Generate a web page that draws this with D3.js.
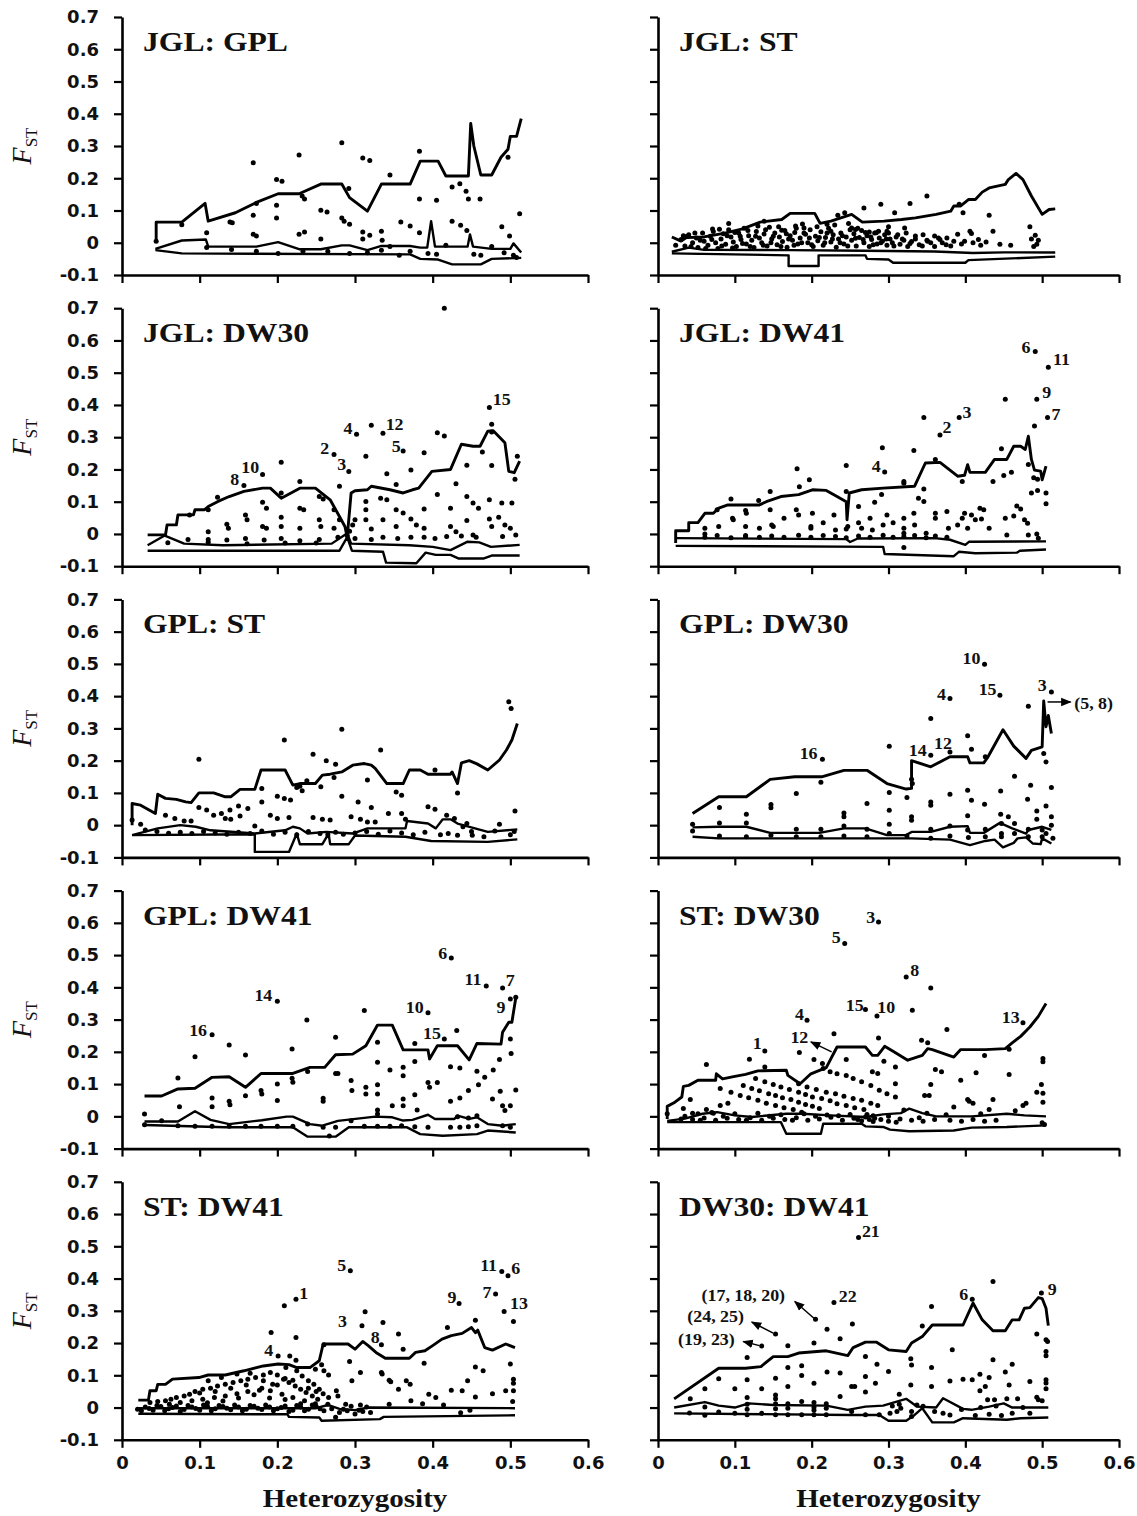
<!DOCTYPE html>
<html>
<head>
<meta charset="utf-8">
<script src="https://cdn.jsdelivr.net/npm/d3@7"></script>
<style>
  body { margin: 0; background: #fff; }
</style>
</head>
<body>
<svg id="chart"></svg>
<script>
// ---- data (heterozygosity, Fst) ----
const xTicks = [0, 0.1, 0.2, 0.3, 0.4, 0.5, 0.6];
const yTicks = [-0.1, 0, 0.1, 0.2, 0.3, 0.4, 0.5, 0.6, 0.7];
const titles = ["JGL: GPL", "JGL: ST", "JGL: DW30", "JGL: DW41", "GPL: ST", "GPL: DW30", "GPL: DW41", "ST: DW30", "ST: DW41", "DW30: DW41"];

// JGL: GPL
const jglGplUpper = [[0.044,0.003],[0.044,0.064],[0.077,0.064],[0.107,0.122],[0.111,0.067],[0.146,0.093],[0.173,0.125],[0.201,0.152],[0.228,0.152],[0.256,0.182],[0.283,0.182],[0.293,0.14],[0.316,0.098],[0.334,0.182],[0.371,0.182],[0.384,0.253],[0.407,0.253],[0.417,0.207],[0.446,0.207],[0.449,0.37],[0.453,0.3],[0.462,0.21],[0.476,0.21],[0.488,0.265],[0.497,0.29],[0.5,0.33],[0.508,0.33],[0.514,0.385]];
const jglGplMid = [[0.043,-0.019],[0.077,0.007],[0.108,0.01],[0.111,-0.012],[0.173,-0.012],[0.201,0.002],[0.228,-0.02],[0.256,-0.02],[0.283,-0.008],[0.293,-0.008],[0.316,-0.023],[0.334,-0.01],[0.371,-0.01],[0.384,-0.015],[0.393,-0.015],[0.398,0.067],[0.403,-0.012],[0.445,-0.012],[0.448,0.026],[0.452,-0.012],[0.476,-0.019],[0.5,-0.019],[0.504,-0.002],[0.514,-0.03]];
const jglGplLow = [[0.043,-0.023],[0.077,-0.033],[0.371,-0.036],[0.384,-0.05],[0.407,-0.052],[0.425,-0.067],[0.462,-0.067],[0.476,-0.05],[0.514,-0.047]];
const jglGplDots = [[0.044,0.005],[0.077,0.056],[0.109,0.031],[0.139,0.064],[0.142,0.062],[0.169,0.248],[0.169,0.085],[0.173,0.122],[0.169,0.026],[0.173,0.021],[0.199,0.196],[0.206,0.191],[0.199,0.116],[0.199,0.077],[0.228,0.272],[0.232,0.145],[0.235,0.136],[0.228,0.026],[0.235,0.033],[0.256,0.101],[0.264,0.095],[0.256,0.012],[0.283,0.31],[0.283,0.077],[0.286,0.067],[0.292,0.168],[0.293,0.057],[0.31,0.263],[0.319,0.255],[0.31,0.033],[0.319,0.023],[0.31,0.012],[0.334,0.036],[0.335,0.008],[0.345,0.21],[0.359,0.064],[0.371,0.052],[0.383,0.284],[0.383,0.136],[0.383,0.031],[0.405,0.132],[0.425,0.173],[0.435,0.183],[0.443,0.16],[0.446,0.136],[0.461,0.136],[0.425,0.067],[0.436,0.054],[0.444,0.038],[0.489,0.05],[0.497,0.265],[0.499,0.021],[0.512,0.09],[0.109,-0.015],[0.141,-0.021],[0.173,-0.026],[0.201,-0.033],[0.233,-0.026],[0.265,-0.026],[0.293,-0.033],[0.316,-0.031],[0.334,-0.023],[0.345,-0.012],[0.357,-0.039],[0.371,-0.026],[0.394,-0.033],[0.405,-0.036],[0.417,-0.008],[0.453,-0.036],[0.462,-0.039],[0.476,-0.012],[0.492,-0.031],[0.504,-0.039],[0.508,-0.046]];
const jglGplLabels = [];

// JGL: ST
const jglStUpper = [[0.018,0.018],[0.03,0.005],[0.037,0.016],[0.06,0.018],[0.087,0.03],[0.11,0.043],[0.133,0.064],[0.161,0.072],[0.172,0.091],[0.204,0.091],[0.211,0.06],[0.225,0.067],[0.252,0.088],[0.266,0.064],[0.294,0.067],[0.317,0.072],[0.335,0.077],[0.362,0.088],[0.381,0.098],[0.385,0.114],[0.394,0.114],[0.404,0.134],[0.413,0.134],[0.422,0.157],[0.431,0.17],[0.452,0.181],[0.456,0.196],[0.466,0.215],[0.475,0.196],[0.486,0.145],[0.5,0.088],[0.509,0.103],[0.517,0.105]];
const jglStMid = [[0.018,-0.028],[0.04,-0.015],[0.06,-0.022],[0.17,-0.023],[0.27,-0.025],[0.36,-0.027],[0.41,-0.032],[0.45,-0.03],[0.517,-0.03]];
const jglStLow = [[0.018,-0.033],[0.17,-0.039],[0.17,-0.072],[0.209,-0.072],[0.209,-0.039],[0.27,-0.039],[0.272,-0.05],[0.3,-0.052],[0.306,-0.062],[0.4,-0.062],[0.404,-0.054],[0.517,-0.043]];
const jglStDots = [[0.268,0.108],[0.29,0.119],[0.308,0.093],[0.328,0.122],[0.35,0.145],[0.397,0.093],[0.392,0.119],[0.431,0.085],[0.484,0.05],[0.243,0.093],[0.234,0.085],[0.252,0.046],[0.257,0.041],[0.436,0.036],[0.406,0.036],[0.408,0.029],[0.36,0.021],[0.376,0.015],[0.367,0.01],[0.39,0.026],[0.399,0.005],[0.417,0.01],[0.427,0.002],[0.445,-0.005],[0.459,-0.008],[0.486,0.012],[0.491,0.023],[0.495,0.008],[0.489,-0.012],[0.493,-0.005],[0.321,0.046],[0.3,0.05],[0.298,0.036],[0.284,0.031],[0.275,0.033],[0.225,0.036],[0.22,0.057],[0.179,0.052],[0.19,0.046],[0.161,0.039],[0.138,0.067],[0.092,0.06],[0.071,0.043],[0.037,0.019],[0.023,-0.008],[0.335,0.021],[0.344,-0.01],[0.351,0.005],[0.381,-0.01],[0.03,0.01],[0.035,-0.01],[0.04,0.025],[0.045,0.0],[0.05,0.015],[0.052,-0.015],[0.058,0.03],[0.06,0.005],[0.065,-0.008],[0.068,0.02],[0.072,0.035],[0.075,0.0],[0.078,-0.018],[0.082,0.012],[0.085,0.028],[0.088,-0.005],[0.092,0.04],[0.095,0.018],[0.098,0.002],[0.102,-0.012],[0.105,0.03],[0.108,0.01],[0.112,0.045],[0.115,-0.004],[0.118,0.022],[0.122,0.008],[0.125,-0.015],[0.128,0.035],[0.132,0.015],[0.135,0.0],[0.138,0.027],[0.142,-0.01],[0.145,0.048],[0.148,0.012],[0.152,0.03],[0.155,-0.006],[0.158,0.018],[0.162,0.004],[0.165,0.038],[0.168,-0.014],[0.172,0.022],[0.175,0.008],[0.178,0.032],[0.182,-0.004],[0.185,0.015],[0.188,0.058],[0.192,0.026],[0.195,0.0],[0.198,0.04],[0.202,-0.012],[0.205,0.02],[0.208,0.006],[0.212,0.034],[0.215,-0.008],[0.218,0.016],[0.222,0.045],[0.225,0.002],[0.228,0.025],[0.232,-0.014],[0.235,0.012],[0.238,0.03],[0.242,-0.004],[0.245,0.018],[0.248,0.06],[0.252,0.008],[0.255,0.028],[0.258,-0.01],[0.262,0.016],[0.265,0.038],[0.268,0.0],[0.272,0.022],[0.275,-0.012],[0.278,0.01],[0.282,0.03],[0.285,-0.004],[0.288,0.015],[0.292,0.005],[0.295,0.025],[0.298,-0.008],[0.302,0.012],[0.305,0.0],[0.31,0.018],[0.315,-0.005],[0.32,0.008],[0.325,-0.012],[0.33,0.004],[0.34,-0.006],[0.35,0.008],[0.36,-0.012],[0.37,0.0],[0.033,0.022],[0.043,-0.012],[0.048,0.03],[0.055,0.008],[0.062,-0.018],[0.07,0.01],[0.08,0.042],[0.083,-0.01],[0.09,0.022],[0.097,-0.016],[0.1,0.032],[0.107,0.02],[0.11,-0.002],[0.117,0.038],[0.12,-0.012],[0.127,0.02],[0.13,0.052],[0.137,-0.008],[0.14,0.04],[0.147,0.0],[0.15,0.02],[0.157,0.05],[0.16,-0.012],[0.167,0.028],[0.17,0.012],[0.177,-0.008],[0.18,0.045],[0.187,0.0],[0.19,0.03],[0.197,0.015],[0.2,-0.006],[0.207,0.05],[0.21,0.016],[0.217,0.0],[0.22,0.03],[0.227,0.012],[0.23,0.055],[0.237,0.0],[0.24,0.022],[0.247,-0.01],[0.25,0.04],[0.257,0.014],[0.26,0.045],[0.267,0.01],[0.27,0.032],[0.277,0.018],[0.28,-0.006],[0.287,0.036],[0.29,0.0],[0.297,0.012],[0.3,0.03],[0.307,-0.01],[0.312,0.025],[0.318,0.012],[0.323,0.03],[0.328,-0.002],[0.335,0.012],[0.345,0.025],[0.355,0.0],[0.365,0.015],[0.375,-0.006],[0.385,0.005],[0.395,-0.004],[0.41,0.0],[0.42,-0.008]];
const jglStLabels = [];

// JGL: DW30
const jglDw30Upper = [[0.033,-0.003],[0.056,-0.003],[0.058,0.028],[0.07,0.028],[0.072,0.059],[0.092,0.059],[0.094,0.075],[0.106,0.075],[0.111,0.085],[0.123,0.1],[0.138,0.116],[0.157,0.132],[0.181,0.142],[0.191,0.142],[0.205,0.111],[0.229,0.142],[0.249,0.142],[0.268,0.106],[0.28,0.054],[0.287,0.023],[0.29,-0.01],[0.295,0.127],[0.3,0.134],[0.316,0.137],[0.321,0.148],[0.345,0.137],[0.362,0.127],[0.374,0.137],[0.382,0.142],[0.399,0.194],[0.423,0.2],[0.437,0.278],[0.452,0.272],[0.461,0.272],[0.471,0.319],[0.478,0.32],[0.493,0.283],[0.498,0.194],[0.505,0.19],[0.512,0.226]];
const jglDw30Mid = [[0.033,-0.035],[0.055,-0.005],[0.08,-0.03],[0.13,-0.035],[0.27,-0.03],[0.29,0.002],[0.295,-0.03],[0.37,-0.035],[0.4,-0.04],[0.423,-0.05],[0.445,-0.024],[0.46,-0.026],[0.475,-0.04],[0.512,-0.034]];
const jglDw30Low = [[0.033,-0.052],[0.28,-0.052],[0.29,-0.01],[0.296,-0.052],[0.336,-0.055],[0.34,-0.089],[0.379,-0.091],[0.391,-0.058],[0.404,-0.065],[0.423,-0.065],[0.433,-0.076],[0.466,-0.076],[0.476,-0.067],[0.512,-0.067]];
const jglDw30Dots = [[0.415,0.70],[0.473,0.392],[0.476,0.34],[0.476,0.316],[0.476,0.212],[0.464,0.254],[0.444,0.213],[0.406,0.314],[0.415,0.304],[0.389,0.252],[0.372,0.198],[0.362,0.257],[0.336,0.312],[0.321,0.337],[0.302,0.309],[0.314,0.241],[0.341,0.187],[0.353,0.153],[0.28,0.148],[0.273,0.246],[0.292,0.194],[0.205,0.222],[0.181,0.184],[0.157,0.15],[0.229,0.163],[0.205,0.127],[0.254,0.116],[0.259,0.108],[0.123,0.114],[0.111,0.075],[0.087,0.059],[0.181,0.098],[0.186,0.08],[0.229,0.08],[0.234,0.075],[0.159,0.059],[0.161,0.044],[0.135,0.03],[0.137,0.018],[0.111,0.007],[0.181,0.023],[0.186,0.018],[0.205,0.052],[0.205,0.023],[0.229,0.018],[0.254,0.044],[0.256,0.023],[0.273,0.075],[0.28,0.044],[0.273,0.018],[0.297,0.028],[0.3,0.044],[0.314,0.101],[0.314,0.075],[0.314,0.044],[0.321,0.015],[0.333,0.111],[0.341,0.106],[0.336,0.044],[0.353,0.075],[0.362,0.065],[0.353,0.023],[0.372,0.046],[0.379,0.028],[0.389,0.077],[0.389,0.018],[0.406,0.122],[0.423,0.08],[0.423,0.023],[0.43,0.007],[0.43,0.156],[0.444,0.116],[0.452,0.096],[0.459,0.08],[0.444,0.042],[0.452,-0.003],[0.473,0.106],[0.473,0.046],[0.476,0.023],[0.485,0.052],[0.489,0.096],[0.502,0.096],[0.493,0.028],[0.5,0.018],[0.509,0.241],[0.506,0.17],[0.507,-0.003],[0.059,-0.027],[0.085,-0.017],[0.111,-0.017],[0.135,-0.019],[0.159,-0.014],[0.183,-0.019],[0.205,-0.014],[0.229,-0.021],[0.254,-0.017],[0.278,-0.01],[0.3,-0.014],[0.321,-0.017],[0.336,-0.01],[0.355,-0.014],[0.372,-0.01],[0.389,-0.01],[0.403,-0.014],[0.418,-0.008],[0.437,-0.006],[0.456,-0.01],[0.49,-0.008],[0.111,-0.026],[0.161,-0.03],[0.21,-0.028],[0.25,-0.028],[0.29,-0.005],[0.293,0.008]];
const jglDw30Labels = [["15",0.489,0.418],["4",0.291,0.326],["12",0.351,0.34],["5",0.353,0.272],["2",0.261,0.264],["3",0.283,0.215],["10",0.165,0.205],["8",0.145,0.168]];

// JGL: DW41
const jglDw41Upper = [[0.023,-0.028],[0.023,0.01],[0.04,0.01],[0.04,0.035],[0.052,0.035],[0.061,0.064],[0.072,0.064],[0.079,0.08],[0.091,0.09],[0.132,0.09],[0.141,0.1],[0.16,0.116],[0.183,0.122],[0.201,0.137],[0.219,0.135],[0.233,0.116],[0.245,0.1],[0.246,0.044],[0.249,0.127],[0.265,0.137],[0.293,0.142],[0.334,0.148],[0.348,0.22],[0.367,0.222],[0.39,0.179],[0.399,0.182],[0.403,0.215],[0.406,0.191],[0.426,0.191],[0.438,0.231],[0.454,0.231],[0.463,0.272],[0.472,0.272],[0.478,0.262],[0.482,0.303],[0.486,0.231],[0.49,0.198],[0.498,0.195],[0.5,0.168],[0.505,0.21]];
const jglDw41Mid = [[0.023,-0.013],[0.245,-0.016],[0.25,-0.025],[0.26,-0.014],[0.36,-0.013],[0.38,-0.018],[0.4,-0.034],[0.405,-0.024],[0.505,-0.023]];
const jglDw41Low = [[0.023,-0.037],[0.293,-0.04],[0.295,-0.062],[0.385,-0.069],[0.392,-0.055],[0.413,-0.06],[0.467,-0.058],[0.471,-0.052],[0.505,-0.048]];
const jglDw41Dots = [[0.491,0.566],[0.508,0.517],[0.493,0.418],[0.452,0.418],[0.507,0.361],[0.392,0.361],[0.367,0.307],[0.346,0.361],[0.49,0.335],[0.292,0.267],[0.333,0.259],[0.295,0.192],[0.245,0.212],[0.181,0.202],[0.197,0.168],[0.361,0.231],[0.447,0.264],[0.396,0.163],[0.436,0.163],[0.45,0.181],[0.46,0.191],[0.482,0.215],[0.489,0.174],[0.494,0.17],[0.486,0.127],[0.494,0.135],[0.505,0.127],[0.505,0.094],[0.346,0.139],[0.339,0.111],[0.346,0.101],[0.32,0.163],[0.32,0.157],[0.291,0.122],[0.282,0.098],[0.245,0.132],[0.261,0.085],[0.184,0.146],[0.18,0.075],[0.183,0.059],[0.146,0.132],[0.095,0.108],[0.077,0.075],[0.079,0.023],[0.061,0.018],[0.061,0.0],[0.097,0.049],[0.098,0.044],[0.114,0.073],[0.115,0.064],[0.131,0.104],[0.132,0.018],[0.114,0.023],[0.114,-0.008],[0.146,0.075],[0.148,0.028],[0.15,0.023],[0.164,0.049],[0.199,0.023],[0.199,0.018],[0.201,0.064],[0.215,0.035],[0.229,0.059],[0.231,0.012],[0.245,0.015],[0.247,0.023],[0.261,0.035],[0.265,0.018],[0.276,0.049],[0.279,0.012],[0.293,0.028],[0.298,0.059],[0.306,0.035],[0.32,0.049],[0.32,0.018],[0.32,0.002],[0.333,0.064],[0.334,0.028],[0.349,0.002],[0.361,0.064],[0.361,0.049],[0.376,0.07],[0.378,0.018],[0.39,0.028],[0.396,0.049],[0.399,0.064],[0.403,0.018],[0.408,0.059],[0.413,0.044],[0.419,0.08],[0.424,0.075],[0.421,0.046],[0.431,0.018],[0.452,0.049],[0.454,-0.003],[0.463,0.056],[0.467,0.087],[0.472,0.077],[0.477,0.044],[0.481,0.033],[0.482,-0.003],[0.493,0.0],[0.495,-0.013],[0.32,-0.042],[0.061,-0.01],[0.077,-0.005],[0.095,-0.012],[0.114,-0.005],[0.132,-0.01],[0.148,-0.006],[0.164,-0.01],[0.183,-0.004],[0.199,-0.01],[0.215,-0.005],[0.231,-0.008],[0.245,-0.012],[0.261,-0.006],[0.276,-0.01],[0.293,-0.004],[0.306,-0.01],[0.32,-0.008],[0.334,-0.005],[0.349,-0.012],[0.361,-0.006],[0.376,-0.01]];
const jglDw41Labels = [["6",0.479,0.579],["11",0.525,0.541],["9",0.506,0.439],["7",0.518,0.371],["3",0.402,0.378],["2",0.376,0.33],["4",0.284,0.21]];

// GPL: ST
const gplStUpper = [[0.013,0.0],[0.013,0.067],[0.024,0.062],[0.043,0.036],[0.046,0.096],[0.056,0.083],[0.07,0.08],[0.082,0.072],[0.089,0.07],[0.099,0.1],[0.118,0.1],[0.133,0.088],[0.14,0.088],[0.152,0.111],[0.171,0.111],[0.179,0.171],[0.21,0.171],[0.22,0.124],[0.229,0.129],[0.249,0.129],[0.258,0.155],[0.268,0.158],[0.283,0.165],[0.297,0.186],[0.312,0.191],[0.321,0.186],[0.326,0.176],[0.341,0.129],[0.362,0.129],[0.37,0.171],[0.384,0.171],[0.394,0.158],[0.423,0.158],[0.425,0.165],[0.432,0.129],[0.437,0.193],[0.447,0.2],[0.457,0.19],[0.471,0.171],[0.486,0.202],[0.495,0.233],[0.502,0.264],[0.509,0.315]];
const gplStMid = [[0.013,-0.031],[0.046,-0.01],[0.075,0.0],[0.095,-0.005],[0.114,-0.016],[0.171,-0.026],[0.21,-0.016],[0.22,-0.005],[0.229,-0.01],[0.239,-0.026],[0.263,-0.021],[0.297,-0.026],[0.316,-0.01],[0.365,-0.01],[0.367,0.013],[0.394,0.005],[0.404,-0.01],[0.413,0.018],[0.423,0.018],[0.432,0.005],[0.471,-0.021],[0.509,-0.013]];
const gplStLow = [[0.013,-0.031],[0.171,-0.028],[0.171,-0.083],[0.215,-0.083],[0.225,-0.026],[0.229,-0.059],[0.258,-0.059],[0.266,-0.026],[0.268,-0.059],[0.292,-0.059],[0.3,-0.032],[0.365,-0.036],[0.398,-0.049],[0.471,-0.052],[0.509,-0.044]];
const gplStDots = [[0.498,0.383],[0.501,0.362],[0.506,0.044],[0.283,0.297],[0.209,0.264],[0.333,0.233],[0.246,0.22],[0.263,0.2],[0.275,0.189],[0.099,0.204],[0.403,0.171],[0.316,0.14],[0.273,0.148],[0.238,0.138],[0.256,0.119],[0.229,0.121],[0.18,0.114],[0.2,0.09],[0.209,0.083],[0.217,0.078],[0.232,0.107],[0.225,0.117],[0.283,0.09],[0.304,0.072],[0.321,0.055],[0.353,0.103],[0.36,0.093],[0.432,0.1],[0.394,0.057],[0.403,0.049],[0.418,0.031],[0.428,0.021],[0.18,0.072],[0.162,0.052],[0.15,0.059],[0.139,0.047],[0.128,0.036],[0.118,0.031],[0.109,0.047],[0.099,0.055],[0.133,0.021],[0.14,0.018],[0.152,0.028],[0.171,-0.003],[0.191,0.031],[0.2,0.021],[0.215,0.024],[0.246,0.024],[0.258,0.018],[0.268,0.016],[0.295,0.026],[0.307,0.018],[0.316,0.01],[0.326,0.01],[0.343,0.036],[0.36,0.036],[0.365,0.018],[0.444,0.005],[0.439,-0.005],[0.056,0.031],[0.068,0.021],[0.08,0.013],[0.089,0.013],[0.024,0.003],[0.013,0.016],[0.486,0.003],[0.42,-0.026],[0.432,-0.031],[0.451,-0.031],[0.466,-0.036],[0.03,-0.015],[0.045,-0.02],[0.06,-0.025],[0.075,-0.022],[0.09,-0.026],[0.105,-0.02],[0.12,-0.024],[0.135,-0.028],[0.15,-0.022],[0.165,-0.026],[0.18,-0.018],[0.195,-0.028],[0.21,-0.022],[0.225,-0.03],[0.24,-0.02],[0.255,-0.026],[0.265,-0.03],[0.275,-0.022],[0.285,-0.028],[0.3,-0.024],[0.315,-0.02],[0.33,-0.028],[0.345,-0.018],[0.36,-0.024],[0.375,-0.03],[0.39,-0.022],[0.41,-0.03],[0.45,-0.02],[0.48,-0.018],[0.5,-0.03],[0.505,-0.02]];
const gplStLabels = [];

// GPL: DW30
const gplDw30Upper = [[0.045,0.036],[0.079,0.088],[0.115,0.088],[0.146,0.142],[0.178,0.15],[0.213,0.15],[0.242,0.17],[0.272,0.17],[0.298,0.129],[0.323,0.112],[0.33,0.114],[0.33,0.2],[0.355,0.181],[0.38,0.212],[0.403,0.212],[0.406,0.193],[0.424,0.193],[0.429,0.21],[0.449,0.296],[0.463,0.245],[0.479,0.207],[0.486,0.232],[0.5,0.243],[0.502,0.385],[0.505,0.305],[0.508,0.34],[0.512,0.284]];
const gplDw30Mid = [[0.045,-0.007],[0.079,-0.005],[0.115,-0.005],[0.146,-0.024],[0.21,-0.024],[0.242,-0.01],[0.27,-0.01],[0.298,-0.031],[0.323,-0.031],[0.33,-0.021],[0.355,-0.021],[0.38,-0.005],[0.403,-0.003],[0.406,-0.024],[0.424,-0.024],[0.445,0.007],[0.461,-0.01],[0.479,-0.026],[0.482,-0.015],[0.5,-0.005],[0.512,-0.015]];
const gplDw30Low = [[0.045,-0.036],[0.079,-0.041],[0.33,-0.041],[0.38,-0.045],[0.406,-0.062],[0.426,-0.049],[0.438,-0.045],[0.449,-0.069],[0.463,-0.055],[0.468,-0.041],[0.479,-0.038],[0.488,-0.057],[0.498,-0.059],[0.5,-0.041],[0.512,-0.057]];
const gplDw30Dots = [[0.425,0.499],[0.445,0.403],[0.38,0.393],[0.512,0.413],[0.482,0.369],[0.355,0.331],[0.403,0.277],[0.301,0.245],[0.408,0.235],[0.355,0.217],[0.38,0.227],[0.214,0.204],[0.426,0.212],[0.502,0.222],[0.505,0.196],[0.464,0.152],[0.33,0.142],[0.331,0.129],[0.485,0.124],[0.512,0.117],[0.212,0.133],[0.18,0.098],[0.301,0.101],[0.324,0.086],[0.38,0.096],[0.403,0.108],[0.408,0.077],[0.446,0.106],[0.481,0.08],[0.505,0.059],[0.08,0.055],[0.115,0.034],[0.147,0.064],[0.147,0.054],[0.242,0.038],[0.242,0.026],[0.272,0.067],[0.301,0.046],[0.355,0.072],[0.355,0.062],[0.33,0.026],[0.33,0.015],[0.403,0.029],[0.425,0.065],[0.446,0.034],[0.456,0.026],[0.493,0.044],[0.493,0.018],[0.512,0.026],[0.512,0.0],[0.464,0.005],[0.505,-0.026],[0.045,0.003],[0.08,0.007],[0.115,0.007],[0.18,-0.013],[0.212,-0.013],[0.242,-0.003],[0.272,-0.013],[0.301,0.003],[0.324,-0.034],[0.355,-0.013],[0.38,-0.003],[0.403,-0.015],[0.426,-0.013],[0.447,0.005],[0.464,-0.026],[0.482,-0.013],[0.5,-0.015],[0.045,-0.018],[0.08,-0.034],[0.115,-0.036],[0.147,-0.031],[0.18,-0.036],[0.212,-0.036],[0.242,-0.034],[0.272,-0.036],[0.301,-0.026],[0.355,-0.041],[0.38,-0.034],[0.404,-0.038],[0.426,-0.036],[0.447,-0.036],[0.447,-0.026],[0.482,-0.036],[0.5,-0.036],[0.514,-0.041]];
const gplDw30Labels = [["10",0.408,0.517],["15",0.429,0.42],["4",0.369,0.406],["3",0.5,0.434],["(5, 8)",0.567,0.377],["14",0.338,0.232],["12",0.371,0.255],["16",0.196,0.224]];
const gplDw30Arrows = [[0.507,0.382,0.537,0.382]];

// GPL: DW41
const gplDw41Upper = [[0.029,0.063],[0.051,0.063],[0.072,0.085],[0.094,0.087],[0.116,0.121],[0.138,0.123],[0.159,0.09],[0.179,0.133],[0.22,0.133],[0.242,0.152],[0.261,0.152],[0.275,0.191],[0.297,0.193],[0.314,0.219],[0.329,0.283],[0.348,0.283],[0.362,0.206],[0.394,0.206],[0.396,0.178],[0.406,0.219],[0.432,0.219],[0.447,0.175],[0.457,0.226],[0.488,0.224],[0.49,0.261],[0.498,0.292],[0.502,0.292],[0.507,0.367]];
const gplDw41Mid = [[0.029,-0.016],[0.072,-0.016],[0.094,0.016],[0.114,-0.011],[0.138,-0.024],[0.18,-0.012],[0.212,-0.001],[0.22,-0.001],[0.242,-0.024],[0.258,-0.029],[0.278,-0.014],[0.326,-0.001],[0.348,-0.003],[0.362,-0.013],[0.374,-0.011],[0.394,0.005],[0.403,-0.008],[0.428,-0.008],[0.432,0.002],[0.447,-0.008],[0.457,-0.003],[0.471,-0.024],[0.49,-0.029],[0.507,-0.024]];
const gplDw41Low = [[0.029,-0.027],[0.133,-0.034],[0.22,-0.034],[0.239,-0.063],[0.275,-0.063],[0.292,-0.034],[0.367,-0.034],[0.384,-0.055],[0.413,-0.06],[0.457,-0.055],[0.471,-0.044],[0.507,-0.05]];
const gplDw41Dots = [[0.424,0.491],[0.469,0.404],[0.49,0.398],[0.5,0.364],[0.507,0.369],[0.2,0.357],[0.312,0.328],[0.394,0.321],[0.238,0.299],[0.431,0.266],[0.415,0.24],[0.116,0.253],[0.138,0.221],[0.159,0.19],[0.094,0.185],[0.219,0.209],[0.275,0.245],[0.329,0.23],[0.377,0.226],[0.5,0.24],[0.501,0.195],[0.486,0.176],[0.329,0.168],[0.345,0.144],[0.362,0.152],[0.362,0.126],[0.377,0.17],[0.394,0.105],[0.406,0.105],[0.423,0.154],[0.435,0.15],[0.457,0.14],[0.467,0.121],[0.478,0.144],[0.459,0.098],[0.446,0.08],[0.435,0.057],[0.423,0.047],[0.477,0.054],[0.487,0.078],[0.49,0.033],[0.5,0.033],[0.493,0.018],[0.507,0.082],[0.314,0.069],[0.314,0.09],[0.329,0.098],[0.329,0.069],[0.295,0.111],[0.296,0.08],[0.275,0.133],[0.278,0.133],[0.259,0.056],[0.259,0.047],[0.239,0.139],[0.219,0.118],[0.22,0.106],[0.2,0.1],[0.2,0.049],[0.179,0.08],[0.18,0.069],[0.159,0.064],[0.138,0.047],[0.139,0.036],[0.116,0.057],[0.116,0.03],[0.072,0.119],[0.074,0.03],[0.029,0.007],[0.377,0.067],[0.396,0.09],[0.348,0.033],[0.362,0.054],[0.362,0.033],[0.329,0.02],[0.329,0.007],[0.38,0.02],[0.457,0.002],[0.432,-0.001],[0.446,-0.005],[0.029,-0.026],[0.051,-0.014],[0.072,-0.029],[0.094,-0.031],[0.116,-0.031],[0.138,-0.031],[0.159,-0.031],[0.179,-0.031],[0.2,-0.031],[0.22,-0.031],[0.239,-0.024],[0.259,-0.034],[0.275,-0.034],[0.295,-0.014],[0.312,-0.031],[0.329,-0.031],[0.345,-0.031],[0.36,-0.029],[0.377,-0.032],[0.394,-0.034],[0.423,-0.034],[0.435,-0.034],[0.446,-0.032],[0.457,-0.029],[0.49,-0.029],[0.5,-0.034],[0.267,-0.061]];
const gplDw41Labels = [["6",0.413,0.506],["11",0.452,0.426],["7",0.5,0.423],["9",0.488,0.338],["10",0.377,0.338],["15",0.399,0.257],["14",0.182,0.374],["16",0.098,0.268]];

// ST: DW30
const stDw30Upper = [[0.012,-0.008],[0.012,0.031],[0.022,0.044],[0.031,0.06],[0.033,0.093],[0.04,0.096],[0.052,0.112],[0.075,0.112],[0.076,0.132],[0.084,0.116],[0.1,0.124],[0.114,0.13],[0.13,0.141],[0.167,0.143],[0.169,0.127],[0.185,0.101],[0.199,0.132],[0.219,0.151],[0.233,0.215],[0.27,0.215],[0.279,0.189],[0.286,0.189],[0.295,0.217],[0.307,0.2],[0.325,0.174],[0.344,0.189],[0.351,0.21],[0.357,0.207],[0.385,0.184],[0.394,0.207],[0.426,0.207],[0.452,0.21],[0.461,0.228],[0.472,0.248],[0.484,0.277],[0.495,0.31],[0.505,0.35]];
const stDw30Mid = [[0.012,-0.014],[0.035,-0.007],[0.058,0.008],[0.077,0.013],[0.1,0.003],[0.122,-0.002],[0.167,0.008],[0.188,0.008],[0.224,0.003],[0.27,-0.002],[0.293,0.006],[0.316,0.01],[0.327,0.024],[0.344,0.01],[0.362,0.0],[0.408,0.0],[0.454,0.008],[0.477,0.003],[0.505,0.0]];
const stDw30Low = [[0.012,-0.018],[0.16,-0.018],[0.167,-0.054],[0.212,-0.054],[0.215,-0.023],[0.265,-0.023],[0.27,-0.031],[0.293,-0.033],[0.302,-0.041],[0.327,-0.046],[0.385,-0.044],[0.408,-0.035],[0.454,-0.033],[0.505,-0.028]];
const stDw30Dots = [[0.287,0.603],[0.243,0.536],[0.323,0.432],[0.355,0.398],[0.27,0.331],[0.285,0.311],[0.331,0.329],[0.194,0.298],[0.475,0.29],[0.229,0.256],[0.287,0.243],[0.376,0.269],[0.139,0.203],[0.119,0.177],[0.063,0.161],[0.184,0.198],[0.245,0.176],[0.203,0.176],[0.214,0.164],[0.343,0.236],[0.351,0.228],[0.294,0.171],[0.309,0.153],[0.279,0.138],[0.286,0.133],[0.139,0.153],[0.361,0.145],[0.369,0.138],[0.425,0.189],[0.457,0.208],[0.414,0.135],[0.457,0.13],[0.501,0.179],[0.501,0.169],[0.394,0.112],[0.309,0.101],[0.355,0.099],[0.403,0.052],[0.405,0.047],[0.347,0.065],[0.353,0.065],[0.385,0.029],[0.436,0.052],[0.431,0.021],[0.41,0.041],[0.465,0.017],[0.475,0.034],[0.479,0.041],[0.493,0.075],[0.499,0.099],[0.501,0.072],[0.501,0.044],[0.081,0.086],[0.095,0.075],[0.107,0.065],[0.118,0.058],[0.13,0.05],[0.141,0.041],[0.153,0.034],[0.164,0.027],[0.176,0.021],[0.187,0.013],[0.111,0.096],[0.122,0.086],[0.132,0.079],[0.144,0.07],[0.153,0.065],[0.162,0.058],[0.173,0.052],[0.183,0.044],[0.192,0.037],[0.201,0.031],[0.21,0.024],[0.127,0.117],[0.139,0.107],[0.15,0.099],[0.16,0.091],[0.171,0.083],[0.183,0.075],[0.192,0.068],[0.201,0.06],[0.213,0.055],[0.224,0.048],[0.233,0.039],[0.245,0.034],[0.256,0.027],[0.268,0.021],[0.183,0.101],[0.194,0.091],[0.206,0.083],[0.219,0.075],[0.231,0.07],[0.242,0.062],[0.254,0.055],[0.265,0.05],[0.277,0.041],[0.286,0.034],[0.215,0.148],[0.224,0.138],[0.233,0.132],[0.245,0.127],[0.254,0.117],[0.265,0.107],[0.277,0.096],[0.288,0.081],[0.298,0.07],[0.309,0.06],[0.033,0.024],[0.042,0.052],[0.052,0.008],[0.063,0.021],[0.072,0.01],[0.081,0.034],[0.091,0.041],[0.035,0.0],[0.012,0.008],[0.03,-0.008],[0.045,-0.01],[0.06,-0.005],[0.075,-0.012],[0.09,-0.006],[0.105,-0.01],[0.12,-0.004],[0.135,-0.012],[0.15,-0.006],[0.165,-0.01],[0.18,-0.004],[0.195,-0.012],[0.21,-0.008],[0.225,-0.003],[0.24,-0.012],[0.255,-0.006],[0.265,-0.014],[0.27,-0.002],[0.275,-0.01],[0.28,-0.016],[0.29,-0.01],[0.3,-0.015],[0.315,-0.008],[0.33,-0.012],[0.345,-0.015],[0.36,-0.01],[0.38,-0.012],[0.395,-0.015],[0.41,-0.01],[0.425,-0.015],[0.44,-0.012],[0.5,-0.02],[0.503,-0.025],[0.045,0.01],[0.07,0.012],[0.1,0.008],[0.13,0.01],[0.16,0.005],[0.19,0.008],[0.22,0.004],[0.25,0.006],[0.28,0.002],[0.3,0.0],[0.32,0.02],[0.35,0.01],[0.375,0.005],[0.42,0.008],[0.055,-0.012],[0.085,0.0],[0.115,-0.012],[0.145,0.0],[0.175,-0.012],[0.205,0.0],[0.235,0.002],[0.26,-0.01],[0.272,0.006],[0.282,-0.006],[0.31,-0.018],[0.34,-0.004]];
const stDw30Labels = [["3",0.277,0.616],["5",0.232,0.554],["8",0.334,0.453],["15",0.256,0.344],["10",0.297,0.339],["4",0.184,0.316],["13",0.459,0.306],["1",0.129,0.225],["12",0.184,0.244]];
const stDw30Arrows = [[0.226,0.2,0.199,0.231]];

// ST: DW41
const stDw41Upper = [[0.021,0.023],[0.034,0.023],[0.036,0.052],[0.044,0.052],[0.046,0.072],[0.056,0.072],[0.065,0.088],[0.099,0.093],[0.111,0.101],[0.133,0.101],[0.157,0.114],[0.182,0.129],[0.201,0.135],[0.215,0.133],[0.225,0.124],[0.242,0.124],[0.254,0.145],[0.259,0.197],[0.291,0.197],[0.3,0.181],[0.31,0.205],[0.317,0.192],[0.327,0.171],[0.339,0.153],[0.37,0.153],[0.378,0.171],[0.39,0.176],[0.4,0.192],[0.412,0.212],[0.424,0.223],[0.438,0.23],[0.45,0.248],[0.455,0.232],[0.458,0.24],[0.467,0.186],[0.477,0.178],[0.494,0.197],[0.506,0.186]];
const stDw41Mid = [[0.021,-0.002],[0.25,-0.002],[0.265,0.008],[0.28,-0.004],[0.3,-0.008],[0.317,0.0],[0.506,-0.002]];
const stDw41Low = [[0.021,-0.019],[0.213,-0.021],[0.215,-0.029],[0.254,-0.031],[0.257,-0.041],[0.332,-0.036],[0.337,-0.029],[0.506,-0.024]];
const stDw41Dots = [[0.294,0.424],[0.489,0.422],[0.497,0.409],[0.481,0.352],[0.434,0.323],[0.224,0.336],[0.209,0.316],[0.492,0.298],[0.504,0.267],[0.313,0.297],[0.309,0.254],[0.336,0.264],[0.419,0.248],[0.455,0.271],[0.192,0.233],[0.356,0.228],[0.224,0.217],[0.201,0.16],[0.216,0.16],[0.224,0.147],[0.26,0.195],[0.334,0.195],[0.362,0.181],[0.293,0.143],[0.389,0.137],[0.307,0.109],[0.334,0.109],[0.335,0.104],[0.344,0.085],[0.346,0.08],[0.366,0.083],[0.296,0.083],[0.356,0.057],[0.371,0.072],[0.372,0.021],[0.455,0.126],[0.465,0.114],[0.445,0.083],[0.438,0.052],[0.424,0.054],[0.455,0.033],[0.477,0.043],[0.494,0.052],[0.5,0.135],[0.504,0.088],[0.504,0.075],[0.504,0.052],[0.503,0.019],[0.257,0.133],[0.26,0.114],[0.266,0.101],[0.249,0.119],[0.276,0.052],[0.278,0.036],[0.395,0.041],[0.404,0.031],[0.414,0.008],[0.436,-0.016],[0.448,-0.008],[0.387,0.012],[0.344,0.01],[0.307,0.008],[0.288,0.01],[0.036,0.016],[0.046,0.019],[0.056,0.021],[0.063,0.026],[0.07,0.031],[0.08,0.036],[0.087,0.041],[0.094,0.05],[0.104,0.057],[0.114,0.06],[0.123,0.067],[0.133,0.072],[0.143,0.078],[0.153,0.083],[0.162,0.088],[0.172,0.093],[0.182,0.101],[0.191,0.109],[0.2,0.101],[0.208,0.088],[0.215,0.078],[0.223,0.067],[0.23,0.057],[0.237,0.047],[0.245,0.036],[0.252,0.026],[0.061,0.01],[0.075,0.016],[0.09,0.021],[0.104,0.026],[0.119,0.031],[0.133,0.036],[0.148,0.043],[0.162,0.05],[0.177,0.054],[0.191,0.052],[0.206,0.041],[0.22,0.031],[0.235,0.021],[0.249,0.012],[0.111,0.083],[0.128,0.093],[0.148,0.104],[0.165,0.106],[0.182,0.083],[0.194,0.072],[0.211,0.124],[0.225,0.114],[0.232,0.098],[0.24,0.083],[0.247,0.072],[0.254,0.057],[0.259,0.043],[0.266,0.031],[0.02,-0.005],[0.03,0.002],[0.04,-0.008],[0.05,0.003],[0.06,-0.004],[0.07,0.005],[0.08,-0.006],[0.09,0.002],[0.1,-0.008],[0.11,0.004],[0.12,-0.004],[0.13,0.003],[0.14,-0.007],[0.15,0.002],[0.16,-0.005],[0.17,0.004],[0.18,-0.006],[0.19,0.002],[0.2,-0.004],[0.21,0.005],[0.22,-0.008],[0.23,0.002],[0.24,-0.005],[0.25,0.003],[0.26,-0.01],[0.27,-0.004],[0.28,-0.015],[0.29,-0.01],[0.3,-0.02],[0.31,-0.012],[0.32,-0.015],[0.275,-0.03],[0.025,-0.01],[0.035,-0.003],[0.045,0.006],[0.055,-0.01],[0.065,0.0],[0.075,-0.012],[0.085,0.006],[0.095,-0.003],[0.105,0.008],[0.115,-0.01],[0.125,0.006],[0.135,-0.002],[0.145,0.008],[0.155,-0.01],[0.165,0.006],[0.175,-0.002],[0.185,0.008],[0.195,-0.01],[0.205,0.0],[0.215,-0.012],[0.225,0.006],[0.235,-0.01],[0.245,0.008],[0.255,-0.004],[0.265,0.01],[0.285,-0.005],[0.295,0.004],[0.305,-0.008],[0.315,0.002],[0.1,0.045],[0.12,0.05],[0.14,0.06],[0.16,0.07],[0.18,0.06],[0.2,0.07],[0.21,0.09],[0.22,0.085],[0.17,0.04],[0.15,0.03],[0.13,0.02],[0.11,0.015],[0.19,0.03],[0.21,0.025],[0.23,0.012],[0.24,0.06],[0.25,0.05]];
const stDw41Labels = [["5",0.283,0.44],["11",0.472,0.44],["6",0.507,0.43],["7",0.47,0.357],["9",0.425,0.342],["13",0.511,0.323],["1",0.234,0.354],["3",0.284,0.267],["8",0.326,0.217],["4",0.189,0.176]];

// DW30: DW41
const dw30Dw41Upper = [[0.021,0.027],[0.079,0.122],[0.114,0.122],[0.134,0.127],[0.15,0.158],[0.169,0.158],[0.183,0.169],[0.219,0.176],[0.247,0.161],[0.254,0.186],[0.27,0.203],[0.284,0.203],[0.3,0.179],[0.323,0.174],[0.33,0.2],[0.344,0.22],[0.357,0.256],[0.397,0.256],[0.41,0.324],[0.422,0.272],[0.436,0.238],[0.452,0.238],[0.461,0.272],[0.47,0.272],[0.477,0.308],[0.484,0.31],[0.495,0.341],[0.5,0.338],[0.505,0.308],[0.508,0.254]];
const dw30Dw41Mid = [[0.021,0.0],[0.061,0.017],[0.079,0.006],[0.1,0.0],[0.118,0.013],[0.15,0.008],[0.219,0.006],[0.247,-0.007],[0.27,0.003],[0.293,0.006],[0.323,0.027],[0.337,0.003],[0.362,0.0],[0.371,0.029],[0.397,-0.004],[0.408,-0.007],[0.431,0.003],[0.45,0.013],[0.461,0.0],[0.508,0.0]];
const dw30Dw41Low = [[0.021,-0.018],[0.25,-0.023],[0.288,-0.023],[0.3,-0.041],[0.323,-0.041],[0.334,-0.023],[0.344,-0.002],[0.357,-0.046],[0.385,-0.046],[0.397,-0.033],[0.454,-0.038],[0.472,-0.033],[0.508,-0.031]];
const dw30Dw41Dots = [[0.261,0.527],[0.436,0.391],[0.499,0.355],[0.409,0.336],[0.229,0.326],[0.356,0.313],[0.205,0.274],[0.253,0.259],[0.22,0.243],[0.344,0.253],[0.153,0.228],[0.237,0.213],[0.135,0.191],[0.169,0.192],[0.203,0.2],[0.493,0.228],[0.505,0.21],[0.507,0.205],[0.505,0.174],[0.505,0.161],[0.27,0.158],[0.383,0.179],[0.329,0.151],[0.33,0.132],[0.116,0.155],[0.436,0.148],[0.285,0.134],[0.356,0.124],[0.461,0.134],[0.169,0.124],[0.187,0.13],[0.3,0.112],[0.22,0.11],[0.237,0.107],[0.419,0.103],[0.452,0.11],[0.079,0.089],[0.116,0.086],[0.153,0.091],[0.187,0.099],[0.27,0.096],[0.397,0.088],[0.409,0.086],[0.431,0.093],[0.283,0.075],[0.505,0.086],[0.505,0.076],[0.505,0.058],[0.484,0.081],[0.061,0.058],[0.1,0.058],[0.135,0.058],[0.169,0.065],[0.203,0.075],[0.252,0.065],[0.256,0.065],[0.27,0.048],[0.457,0.07],[0.426,0.065],[0.356,0.065],[0.419,0.052],[0.329,0.07],[0.314,0.041],[0.38,0.082],[0.042,0.027],[0.116,0.031],[0.153,0.039],[0.153,0.027],[0.187,0.019],[0.237,0.034],[0.493,0.032],[0.495,0.024],[0.5,0.021],[0.429,0.024],[0.438,0.024],[0.454,0.027],[0.468,0.027],[0.461,-0.018],[0.484,-0.018],[0.447,-0.025],[0.431,-0.021],[0.413,-0.025],[0.38,-0.023],[0.371,-0.018],[0.302,-0.018],[0.311,-0.012],[0.316,-0.002],[0.33,-0.028],[0.33,-0.012],[0.116,0.01],[0.116,-0.005],[0.116,-0.022],[0.153,0.012],[0.153,-0.004],[0.153,-0.022],[0.169,0.012],[0.169,-0.002],[0.169,-0.022],[0.203,0.016],[0.203,0.0],[0.203,-0.008],[0.203,-0.022],[0.219,0.012],[0.219,-0.002],[0.219,-0.022],[0.061,0.002],[0.061,-0.024],[0.079,-0.014],[0.1,-0.018],[0.135,-0.018],[0.187,-0.022],[0.252,-0.012],[0.27,-0.022],[0.288,-0.022],[0.041,-0.017],[0.305,0.005],[0.314,0.01],[0.337,0.008],[0.345,0.004],[0.36,-0.012],[0.395,-0.006],[0.42,0.0],[0.44,0.005],[0.475,0.0]];
const dw30Dw41Labels = [["21",0.277,0.546],["22",0.247,0.344],["6",0.398,0.352],["9",0.513,0.365],["(17, 18, 20)",0.111,0.347],["(24, 25)",0.075,0.282],["(19, 23)",0.063,0.21]];
const dw30Dw41Arrows = [[0.203,0.277,0.178,0.329],[0.15,0.231,0.122,0.265],[0.132,0.192,0.111,0.205]];

const panels = [
  { upper: jglGplUpper, mid: jglGplMid, low: jglGplLow, dots: jglGplDots, labels: jglGplLabels, arrows: [] },
  { upper: jglStUpper, mid: jglStMid, low: jglStLow, dots: jglStDots, labels: jglStLabels, arrows: [] },
  { upper: jglDw30Upper, mid: jglDw30Mid, low: jglDw30Low, dots: jglDw30Dots, labels: jglDw30Labels, arrows: [] },
  { upper: jglDw41Upper, mid: jglDw41Mid, low: jglDw41Low, dots: jglDw41Dots, labels: jglDw41Labels, arrows: [] },
  { upper: gplStUpper, mid: gplStMid, low: gplStLow, dots: gplStDots, labels: gplStLabels, arrows: [] },
  { upper: gplDw30Upper, mid: gplDw30Mid, low: gplDw30Low, dots: gplDw30Dots, labels: gplDw30Labels, arrows: gplDw30Arrows },
  { upper: gplDw41Upper, mid: gplDw41Mid, low: gplDw41Low, dots: gplDw41Dots, labels: gplDw41Labels, arrows: [] },
  { upper: stDw30Upper, mid: stDw30Mid, low: stDw30Low, dots: stDw30Dots, labels: stDw30Labels, arrows: stDw30Arrows },
  { upper: stDw41Upper, mid: stDw41Mid, low: stDw41Low, dots: stDw41Dots, labels: stDw41Labels, arrows: [] },
  { upper: dw30Dw41Upper, mid: dw30Dw41Mid, low: dw30Dw41Low, dots: dw30Dw41Dots, labels: dw30Dw41Labels, arrows: dw30Dw41Arrows }
];

// ---- layout ----
const width = 1137, height = 1516;
const colStart = [122, 658];
const colEnd = [588, 1119];
const rowTop = 17, rowStep = 291.2, plotH = 258;
const serif = "'Liberation Serif', 'DejaVu Serif', serif";

const svg = d3.select("#chart").attr("width", width).attr("height", height);
svg.append("rect").attr("width", width).attr("height", height).attr("fill", "#fff");

svg.append("defs").append("marker")
  .attr("id", "arrow")
  .attr("viewBox", "0 0 10 10")
  .attr("refX", 9).attr("refY", 5)
  .attr("markerWidth", 7).attr("markerHeight", 7)
  .attr("orient", "auto")
  .append("path")
  .attr("d", "M0,1 L10,5 L0,9 z")
  .attr("fill", "#000");

const tickText = (d) => (d === 0 ? "0" : d.toFixed(1));

panels.forEach((p, i) => {
  const col = i % 2;
  const row = Math.floor(i / 2);
  const top = rowTop + row * rowStep;
  const x = d3.scaleLinear().domain([0, 0.6]).range([colStart[col], colEnd[col]]);
  const y = d3.scaleLinear().domain([-0.1, 0.7]).range([top + plotH, top]);
  const g = svg.append("g");

  const yAxis = d3.axisLeft(y).tickValues(yTicks).tickSize(8).tickSizeOuter(0).tickPadding(15)
    .tickFormat(col === 0 ? tickText : () => "");
  const xAxis = d3.axisBottom(x).tickValues(xTicks).tickSize(8).tickSizeOuter(0).tickPadding(8)
    .tickFormat(row === 4 ? tickText : () => "");

  const ya = g.append("g").attr("transform", `translate(${x(0)},0)`).call(yAxis);
  const xa = g.append("g").attr("transform", `translate(0,${y(-0.1)})`).call(xAxis);
  [ya, xa].forEach((a) => {
    a.select(".domain").attr("stroke", "#000").attr("stroke-width", 2.6);
    a.selectAll(".tick line").attr("stroke", "#000").attr("stroke-width", 2.2);
    a.selectAll(".tick text")
      .attr("fill", "#111")
      .style("font-family", "'DejaVu Sans', sans-serif")
      .style("font-weight", "700")
      .style("font-size", "18px");
  });

  // F_ST label (left column only)
  if (col === 0) {
    const t = svg.append("text")
      .attr("transform", `translate(31,${top + plotH / 2}) rotate(-90)`)
      .attr("text-anchor", "middle")
      .style("font-family", serif)
      .attr("fill", "#111");
    t.append("tspan").text("F").style("font-style", "italic").style("font-size", "28px");
    t.append("tspan").text("ST").attr("dy", 6).style("font-size", "17px");
  }

  // title (slightly widened like the source)
  g.append("text")
    .attr("transform", `translate(${x(0) + 21},${top + 34}) scale(1.13,1)`)
    .text(titles[i])
    .attr("fill", "#111")
    .style("font-family", serif)
    .style("font-weight", "700")
    .style("font-size", "28px");

  const line = d3.line().x((d) => x(d[0])).y((d) => y(d[1]));

  g.append("path").datum(p.low).attr("d", line)
    .attr("fill", "none").attr("stroke", "#000").attr("stroke-width", 2.4).attr("stroke-linejoin", "round");
  g.append("path").datum(p.mid).attr("d", line)
    .attr("fill", "none").attr("stroke", "#000").attr("stroke-width", 2.4).attr("stroke-linejoin", "round");
  g.append("path").datum(p.upper).attr("d", line)
    .attr("fill", "none").attr("stroke", "#000").attr("stroke-width", 2.9).attr("stroke-linejoin", "round");

  g.selectAll("circle.dot")
    .data(p.dots)
    .join("circle")
    .attr("class", "dot")
    .attr("cx", (d) => x(d[0]))
    .attr("cy", (d) => y(d[1]))
    .attr("r", 2.5)
    .attr("fill", "#000");

  g.selectAll("text.lab")
    .data(p.labels)
    .join("text")
    .attr("class", "lab")
    .attr("transform", (d) => `translate(${x(d[1])},${y(d[2])}) scale(1.12,1)`)
    .attr("dy", "0.35em")
    .attr("text-anchor", "middle")
    .text((d) => d[0])
    .attr("fill", "#111")
    .style("font-family", serif)
    .style("font-weight", "700")
    .style("font-size", "16px");

  g.selectAll("line.arr")
    .data(p.arrows)
    .join("line")
    .attr("class", "arr")
    .attr("x1", (d) => x(d[0]))
    .attr("y1", (d) => y(d[1]))
    .attr("x2", (d) => x(d[2]))
    .attr("y2", (d) => y(d[3]))
    .attr("stroke", "#000")
    .attr("stroke-width", 1.5)
    .attr("marker-end", "url(#arrow)");

  if (row === 4) {
    svg.append("text")
      .attr("transform", `translate(${(colStart[col] + colEnd[col]) / 2},1507) scale(1.16,1)`)
      .attr("text-anchor", "middle")
      .text("Heterozygosity")
      .attr("fill", "#111")
      .style("font-family", serif)
      .style("font-weight", "700")
      .style("font-size", "25px");
  }
});
</script>
</body>
</html>
